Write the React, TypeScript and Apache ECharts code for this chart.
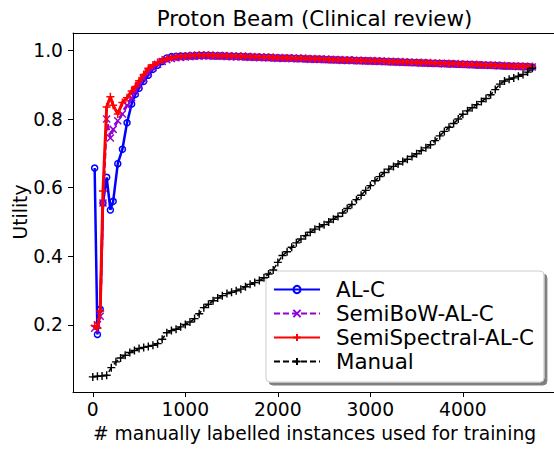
import React, { useEffect, useRef } from "react";
import * as echarts from "echarts";

const FONT = "DejaVu Sans";

const alX = [
  20, 50, 80, 110, 150, 190, 220, 270, 320, 370, 420, 460, 500, 550, 600, 650, 700, 750, 800, 850, 900, 950, 1000,
  1050, 1100, 1150, 1200, 1250, 1300, 1350, 1400, 1450, 1500,
  1550, 1600, 1650, 1700, 1750, 1800, 1850, 1900, 1950, 2000,
  2050, 2100, 2150, 2200, 2250, 2300, 2350, 2400, 2450, 2500,
  2550, 2600, 2650, 2700, 2750, 2800, 2850, 2900, 2950, 3000,
  3050, 3100, 3150, 3200, 3250, 3300, 3350, 3400, 3450, 3500,
  3550, 3600, 3650, 3700, 3750, 3800, 3850, 3900, 3950, 4000,
  4050, 4100, 4150, 4200, 4250, 4300, 4350, 4400, 4450, 4500,
  4550, 4600, 4650, 4700, 4750,
];

const alC = [
  0.657, 0.172, 0.245, 0.555, 0.63, 0.535, 0.56, 0.67, 0.712, 0.789, 0.844, 0.872, 0.89, 0.91, 0.928, 0.945, 0.957, 0.968, 0.978, 0.982, 0.983, 0.984, 0.984,
  0.985, 0.985, 0.986, 0.986, 0.986, 0.985, 0.985, 0.985, 0.984, 0.984,
  0.983, 0.983, 0.982, 0.982, 0.981, 0.981, 0.98, 0.98, 0.979, 0.979,
  0.978, 0.978, 0.978, 0.977, 0.977, 0.976, 0.976, 0.975, 0.975, 0.974,
  0.974, 0.973, 0.973, 0.972, 0.972, 0.972, 0.971, 0.971, 0.97, 0.97,
  0.969, 0.969, 0.968, 0.968, 0.967, 0.967, 0.966, 0.966, 0.965, 0.965,
  0.964, 0.964, 0.963, 0.963, 0.962, 0.962, 0.961, 0.961, 0.96, 0.96,
  0.959, 0.959, 0.958, 0.958, 0.957, 0.957, 0.956, 0.956, 0.955, 0.955,
  0.954, 0.954, 0.953, 0.953, 0.952,
];

const semiBoW = [
  0.19, 0.2, 0.225, 0.555, 0.8, 0.745, 0.77, 0.795, 0.815, 0.84, 0.862, 0.882, 0.898, 0.918, 0.935, 0.95, 0.96, 0.968, 0.973, 0.977, 0.979, 0.98, 0.981,
  0.982, 0.983, 0.983, 0.984, 0.984, 0.983, 0.983, 0.983, 0.982, 0.982,
  0.981, 0.981, 0.981, 0.98, 0.98, 0.979, 0.979, 0.978, 0.978, 0.977,
  0.977, 0.977, 0.976, 0.976, 0.975, 0.975, 0.974, 0.974, 0.974, 0.973,
  0.973, 0.972, 0.972, 0.971, 0.971, 0.97, 0.97, 0.97, 0.969, 0.969,
  0.968, 0.968, 0.967, 0.967, 0.966, 0.966, 0.965, 0.965, 0.964, 0.964,
  0.963, 0.963, 0.962, 0.962, 0.962, 0.961, 0.961, 0.96, 0.96, 0.959,
  0.959, 0.958, 0.958, 0.957, 0.957, 0.956, 0.956, 0.955, 0.955, 0.954,
  0.954, 0.953, 0.953, 0.952, 0.952,
];

const semiSpectral = [
  0.197, 0.19, 0.24, 0.59, 0.835, 0.865, 0.84, 0.815, 0.848, 0.862, 0.882, 0.895, 0.912, 0.93, 0.948, 0.958, 0.965, 0.972, 0.976, 0.979, 0.981, 0.983, 0.984,
  0.985, 0.986, 0.986, 0.987, 0.986, 0.986, 0.985, 0.985, 0.985, 0.984,
  0.984, 0.983, 0.983, 0.982, 0.982, 0.981, 0.981, 0.98, 0.98, 0.979,
  0.979, 0.978, 0.978, 0.977, 0.977, 0.977, 0.976, 0.976, 0.975, 0.975,
  0.974, 0.974, 0.973, 0.973, 0.972, 0.972, 0.971, 0.971, 0.97, 0.97,
  0.97, 0.969, 0.969, 0.968, 0.968, 0.967, 0.967, 0.966, 0.966, 0.965,
  0.965, 0.964, 0.964, 0.963, 0.963, 0.962, 0.962, 0.961, 0.961, 0.96,
  0.96, 0.959, 0.959, 0.958, 0.958, 0.957, 0.957, 0.956, 0.956, 0.955,
  0.955, 0.954, 0.954, 0.953, 0.953,
];

const manualX = [
  0, 50, 100, 150, 200, 250, 300, 350, 400, 450,
  500, 550, 600, 650, 700, 750, 800, 850, 900, 950,
  1000, 1050, 1100, 1150, 1200, 1250, 1300, 1350, 1400, 1450,
  1500, 1550, 1600, 1650, 1700, 1750, 1800, 1850, 1900, 1950,
  2000, 2050, 2100, 2150, 2200, 2250, 2300, 2350, 2400, 2450,
  2500, 2550, 2600, 2650, 2700, 2750, 2800, 2850, 2900, 2950,
  3000, 3050, 3100, 3150, 3200, 3250, 3300, 3350, 3400, 3450,
  3500, 3550, 3600, 3650, 3700, 3750, 3800, 3850, 3900, 3950,
  4000, 4050, 4100, 4150, 4200, 4250, 4300, 4350, 4400, 4450,
  4500, 4550, 4600, 4650, 4700, 4750,
];

const manual = [
  0.048, 0.05, 0.051, 0.053, 0.075, 0.092, 0.103, 0.111, 0.119, 0.125,
  0.131, 0.134, 0.137, 0.14, 0.145, 0.158, 0.177, 0.183, 0.187, 0.194,
  0.201, 0.208, 0.218, 0.232, 0.25, 0.26, 0.27, 0.278, 0.285, 0.291,
  0.295, 0.299, 0.304, 0.311, 0.318, 0.323, 0.329, 0.337, 0.348, 0.36,
  0.382, 0.402, 0.413, 0.426, 0.439, 0.45, 0.46, 0.47, 0.479, 0.486,
  0.492, 0.5, 0.508, 0.516, 0.526, 0.539, 0.551, 0.565, 0.578, 0.592,
  0.606, 0.62, 0.632, 0.644, 0.654, 0.662, 0.669, 0.676, 0.683, 0.691,
  0.699, 0.708, 0.716, 0.725, 0.737, 0.751, 0.764, 0.776, 0.787, 0.8,
  0.814, 0.824, 0.833, 0.842, 0.851, 0.86, 0.871, 0.886, 0.902, 0.911,
  0.916, 0.92, 0.925, 0.93, 0.937, 0.948,
];

const xTicks = [0, 1000, 2000, 3000, 4000];
const yTicks = [0.2, 0.4, 0.6, 0.8, 1.0];
const seriesNames = ["AL-C", "SemiBoW-AL-C", "SemiSpectral-AL-C", "Manual"];

const PLUS = "path://M0,5L10,5M5,0L5,10";
const CROSS = "path://M0,0L10,10M10,0L0,10";

function pairs(xs: number[], ys: number[]) {
  return ys.map((y, i) => [xs[i], y]);
}

export default function App() {
  const ref = useRef<HTMLDivElement>(null);
  useEffect(() => {
    if (!ref.current) return;
    const chart = echarts.init(ref.current, undefined, { renderer: "svg" });
    const xRange = { min: -214, max: 4985 };
    const yRange = { min: 0.004, max: 1.051 };
    chart.setOption({
      animation: false,
      backgroundColor: "#fff",
      grid: { left: 73, top: 33, right: 0, bottom: 58, containLabel: false },
      xAxis: [
        {
          type: "value",
          ...xRange,
          position: "bottom",
          axisLine: { show: true, onZero: false, lineStyle: { color: "#000", width: 1 } },
          axisTick: { show: true, length: 5, customValues: xTicks, lineStyle: { color: "#000", width: 1 } },
          axisLabel: {
            customValues: xTicks,
            fontSize: 18.7,
            fontFamily: FONT,
            color: "#000",
            margin: 8,
            formatter: (v: number) => String(v),
          },
          splitLine: { show: false },
        },
        {
          type: "value",
          ...xRange,
          position: "top",
          axisLine: { show: true, onZero: false, lineStyle: { color: "#000", width: 1 } },
          axisTick: { show: false },
          axisLabel: { show: false },
          splitLine: { show: false },
        },
      ],
      yAxis: [
        {
          type: "value",
          ...yRange,
          axisLine: { show: true, onZero: false, lineStyle: { color: "#000", width: 1 } },
          axisTick: { show: true, length: 5, customValues: yTicks, lineStyle: { color: "#000", width: 1 } },
          axisLabel: {
            customValues: yTicks,
            fontSize: 18.7,
            fontFamily: FONT,
            color: "#000",
            margin: 10,
            formatter: (v: number) => v.toFixed(1),
          },
          splitLine: { show: false },
        },
      ],
      legend: {
        data: seriesNames,
        orient: "vertical",
        left: 266,
        top: 271,
        itemWidth: 46,
        itemHeight: 9,
        itemGap: 3,
        padding: [8, 10, 10, 7],
        backgroundColor: "#fff",
        borderColor: "#cccccc",
        borderWidth: 1,
        borderRadius: 4,
        shadowColor: "rgba(0,0,0,0.5)",
        shadowOffsetX: 3,
        shadowOffsetY: 3,
        shadowBlur: 0,
        textStyle: { fontSize: 21.4, fontFamily: FONT, color: "#000", padding: [0, 0, 0, 11] },
      },
      graphic: [
        {
          type: "text",
          x: 314.5,
          y: 18,
          style: { text: "Proton Beam (Clinical review)", fontSize: 21.4, fontFamily: FONT, fill: "#000", align: "center", verticalAlign: "middle" },
        },
        {
          type: "text",
          x: 314.5,
          y: 433,
          style: { text: "# manually labelled instances used for training", fontSize: 18.7, fontFamily: FONT, fill: "#000", align: "center", verticalAlign: "middle" },
        },
        {
          type: "text",
          x: 20,
          y: 212,
          rotation: Math.PI / 2,
          style: { text: "Utility", fontSize: 18.7, fontFamily: FONT, fill: "#000", align: "center", verticalAlign: "middle" },
        },
      ],
      series: [
        {
          name: "AL-C",
          type: "line",
          data: pairs(alX, alC),
          symbol: "circle",
          symbolSize: 6,
          lineStyle: { color: "#0000ff", width: 2.5 },
          itemStyle: { color: "none", borderColor: "#0000ff", borderWidth: 1.5 },
          z: 2,
        },
        {
          name: "SemiBoW-AL-C",
          type: "line",
          data: pairs(alX, semiBoW),
          symbol: CROSS,
          symbolSize: 7,
          lineStyle: { color: "#9400d3", width: 2.5, type: [6, 3] },
          itemStyle: { color: "#9400d3", borderColor: "#9400d3", borderWidth: 1.5 },
          z: 3,
        },
        {
          name: "SemiSpectral-AL-C",
          type: "line",
          data: pairs(alX, semiSpectral),
          symbol: PLUS,
          symbolSize: 8,
          lineStyle: { color: "#ff0000", width: 3 },
          itemStyle: { color: "#ff0000", borderColor: "#ff0000", borderWidth: 1.5 },
          z: 4,
        },
        {
          name: "Manual",
          type: "line",
          data: pairs(manualX, manual),
          symbol: PLUS,
          symbolSize: 8,
          lineStyle: { color: "#000000", width: 1.5, type: [6, 3] },
          itemStyle: { color: "#000000", borderColor: "#000000", borderWidth: 1.4 },
          z: 5,
        },
      ],
    });
    return () => chart.dispose();
  }, []);
  return <div ref={ref} style={{ position: "fixed", left: 0, top: 0, width: 554, height: 450 }} />;
}
